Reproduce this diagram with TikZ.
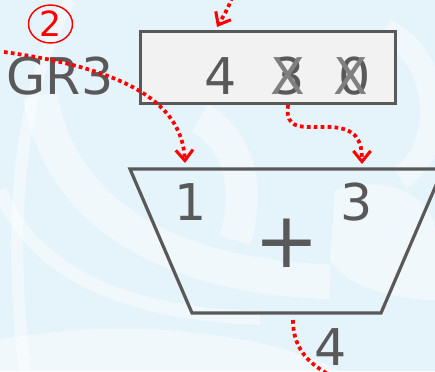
\documentclass[tikz,border=0pt]{standalone}
\usepackage{fontspec}
\setmainfont{DejaVu Sans}
\usetikzlibrary{
  arrows.meta,
  positioning,
  shapes.geometric
}
\definecolor{slideblue}{RGB}{229,243,251}
\definecolor{inkgray}{RGB}{89,89,89}
\definecolor{crossgray}{RGB}{128,128,128}
\definecolor{regfill}{RGB}{242,242,242}
\definecolor{flowred}{RGB}{255,0,0}

\tikzset{
  digit/.style={text=inkgray, font=\fontsize{38}{38}\selectfont, inner sep=0pt, anchor=base},
  crossout/.style={digit, text=crossgray},
  regbox/.style={draw=inkgray, line width=2.5pt, fill=regfill, inner sep=0pt},
  swirl/.style={white, opacity=0.45},
  flow/.style={draw=flowred, line width=2.8pt, dash pattern=on 2.8pt off 2.4pt,
    -{Straight Barb[length=8pt, width=13pt, line width=2.3pt]}}
}

\begin{document}
\begin{tikzpicture}[x=0.75pt, y=-0.75pt]
  \useasboundingbox (0,0) rectangle (435,371);
  \clip (0,0) rectangle (435,371);
  \fill[slideblue] (0,0) rectangle (435,371);
  % soft swirls behind
  \draw[swirl, line width=9pt] (70,0) .. controls (25,80) and (5,200) .. (25,371);
  \draw[swirl, line width=26pt] (40,95) .. controls (60,210) and (160,275) .. (330,282);
  \draw[swirl, line width=10pt] (0,190) .. controls (40,290) and (160,315) .. (260,318);
  \draw[swirl, line width=24pt] (200,118) .. controls (240,140) and (250,190) .. (235,240);
  \draw[swirl, line width=18pt] (385,30) .. controls (445,60) and (445,150) .. (400,178);
  \fill[swirl] (335,190) .. controls (380,175) and (430,190) .. (435,230)
    -- (435,300) .. controls (400,300) and (350,290) .. (330,260) -- cycle;
  \fill[swirl] (0,340) .. controls (100,320) and (250,325) .. (340,371)
    -- (0,371) -- cycle;

  % register
  \node[regbox, minimum width=191.25pt, minimum height=54pt] (reg) at (268,67.5) {};
  \node[digit] (gr) at (60,94.5) {GR3};
  \node[digit] (d4) at (221,94.5) {4};
  \node[digit] (d3) at (289,94.5) {3};
  \node[digit] (d0) at (355,94.5) {0};
  \node[crossout] (x3) at (288,94.5) {X};
  \node[crossout] (x0) at (351,94.5) {X};
  \node[ellipse, draw=flowred, line width=1.1pt, text=flowred, inner sep=0pt,
    minimum width=33pt, minimum height=28.5pt, font=\fontsize{26}{26}\selectfont] (step2) at (50.5,24) {2};

  % adder
  \coordinate (tl) at (130,169);
  \coordinate (tr) at (443,169);
  \coordinate (br) at (381,313);
  \coordinate (bl) at (192,313);
  \draw[inkgray, line width=2.4pt, line join=miter] (tl) -- (tr) -- (br) -- (bl) -- cycle;
  \node[digit] (in1) at (191,220) {1};
  \node[digit] (in3) at (357,220) {3};
  \node[digit, anchor=center, font=\fontsize{58}{58}\selectfont] (plus) at (287,243) {+};
  \node[digit] (sum) at (331,365) {4};

  % data flow
  \coordinate (topfrom) at (232,-3);
  \coordinate (regin) at (217,27);
  \coordinate (grfrom) at (4,52);
  \coordinate (addin1) at (185,163);
  \coordinate (regout) at (288,105);
  \coordinate (addin3) at (362,164);
  \coordinate (addout) at (293,320);
  \coordinate (sumto) at (330,375);
  \draw[flow] (topfrom) .. controls (228,10) and (222,18) .. (regin);
  \draw[flow] (grfrom) .. controls (120,68) and (182,100) .. (addin1);
  \draw[flow] (regout) .. controls (285,130) and (300,127) .. (330,127)
    .. controls (356,128) and (362,140) .. (addin3);
  \draw[flow, -] (addout) .. controls (293,345) and (305,362) .. (sumto);
\end{tikzpicture}
\end{document}
